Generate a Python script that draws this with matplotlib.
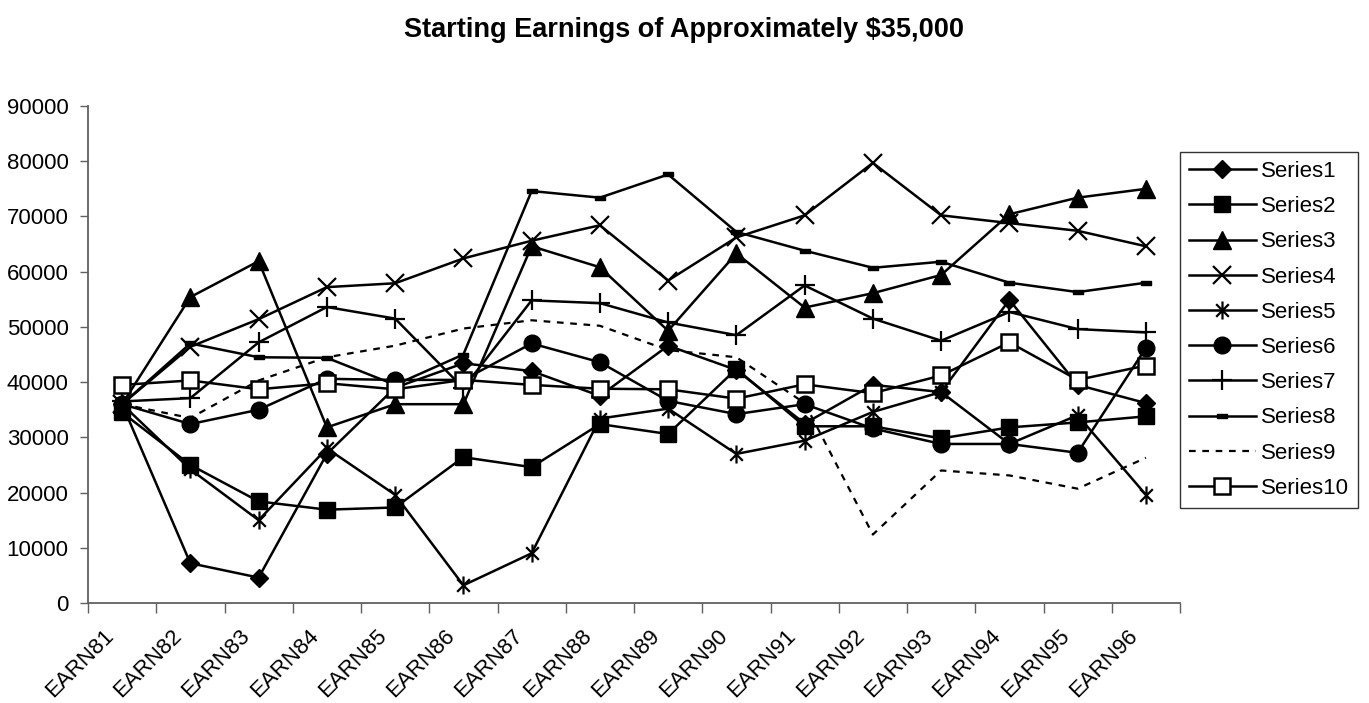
import matplotlib.pyplot as plt
from matplotlib.path import Path
from matplotlib.transforms import ScaledTranslation
import numpy as np

plt.rcParams['font.family'] = ['Liberation Sans', 'DejaVu Sans']

# categories
years = ["EARN81", "EARN82", "EARN83", "EARN84", "EARN85", "EARN86", "EARN87", "EARN88",
         "EARN89", "EARN90", "EARN91", "EARN92", "EARN93", "EARN94", "EARN95", "EARN96"]

# series values
series1 = [36000, 7200, 4600, 27000, 39000, 43400, 42000, 37500, 46600, 42200, 32500, 39500, 38200, 54900, 39500, 36200]
series2 = [34500, 25000, 18400, 16900, 17300, 26400, 24600, 32400, 30600, 42400, 32000, 32000, 29800, 31800, 32700, 33800]
series3 = [36000, 55400, 61900, 31800, 36000, 36000, 64600, 60800, 49300, 63300, 53500, 56100, 59400, 70400, 73400, 75000]
series4 = [36000, 46400, 51400, 57200, 57900, 62400, 65600, 68400, 58400, 66200, 70200, 79700, 70200, 68800, 67400, 64600]
series5 = [36000, 24200, 15000, 28000, 19600, 3200, 9000, 33400, 35200, 27000, 29400, 34600, 38200, 28800, 34000, 19600]
series6 = [36000, 32400, 35000, 40600, 40400, 40400, 47000, 43600, 36600, 34200, 36000, 31600, 28800, 28800, 27200, 46200]
series7 = [36500, 37100, 47200, 53600, 51500, 38900, 54800, 54300, 50800, 48500, 57500, 51500, 47500, 52700, 49600, 49000]
series8 = [36000, 47000, 44500, 44400, 39500, 45000, 74600, 73400, 77600, 67200, 63800, 60700, 61800, 58000, 56300, 58000]
series9 = [36000, 33500, 40300, 44500, 46600, 49700, 51200, 50200, 45800, 44500, 36200, 12400, 24000, 23100, 20700, 26300]
series10 = [39500, 40300, 38700, 39800, 38700, 40400, 39500, 38800, 38700, 37000, 39600, 38000, 41200, 47200, 40400, 43000]

names = ["Series1", "Series2", "Series3", "Series4", "Series5",
         "Series6", "Series7", "Series8", "Series9", "Series10"]

dash_marker = Path([(-1, -0.45), (1, -0.45), (1, 0.45), (-1, 0.45), (-1, -0.45)],
                   [Path.MOVETO, Path.LINETO, Path.LINETO, Path.LINETO, Path.CLOSEPOLY])
asterisk = Path([(-0.7, -0.7), (0.7, 0.7), (-0.7, 0.7), (0.7, -0.7), (0, -1), (0, 1)],
                [Path.MOVETO, Path.LINETO, Path.MOVETO, Path.LINETO, Path.MOVETO, Path.LINETO])

fig = plt.figure(figsize=(13.69, 7.03), dpi=100)
ax = fig.add_axes([88 / 1369, 1 - 603 / 703, (1180 - 88) / 1369, (603 - 106) / 703])

x = np.arange(len(years))
lw = 1.8
ax.plot(x, series1, color='black', lw=lw, marker='D', ms=9, label=names[0])
ax.plot(x, series2, color='black', lw=lw, marker='s', ms=12, label=names[1])
ax.plot(x, series3, color='black', lw=lw, marker='^', ms=13, label=names[2])
ax.plot(x, series4, color='black', lw=lw, marker='x', ms=13, mew=1.6, label=names[3])
ax.plot(x, series5, color='black', lw=lw, marker=asterisk, ms=13, mew=1.6,
        mfc='none', mec='black', label=names[4])
ax.plot(x, series6, color='black', lw=lw, marker='o', ms=12, label=names[5])
ax.plot(x, series7, color='black', lw=lw, marker='+', ms=15, mew=1.6, label=names[6])
ax.plot(x, series8, color='black', lw=lw, marker=dash_marker, ms=7, label=names[7])
ax.plot(x, series9, color='black', lw=1.6, ls=(0, (3, 3)), label=names[8])
ax.plot(x, series10, color='black', lw=lw, marker='s', ms=12, mfc='white', mec='black',
        mew=1.8, label=names[9])

ax.set_xlim(-0.5, len(years) - 0.5)
ax.set_ylim(0, 90000)
ax.set_yticks(np.arange(0, 90001, 10000))
ax.tick_params(axis='y', labelsize=16, length=6, width=1, color='#606060', pad=8)

ax.set_xticks(np.arange(-0.5, len(years), 1.0))
ax.set_xticklabels([])
ax.tick_params(axis='x', which='major', length=7, width=1, color='#606060')
ax.set_xticks(x, minor=True)
ax.set_xticklabels(years, minor=True, rotation=45, ha='right', va='top',
                   rotation_mode='anchor', fontsize=16)
ax.tick_params(axis='x', which='minor', length=0, pad=16)
shift = ScaledTranslation(-0.19, 0, fig.dpi_scale_trans)
for lab in ax.get_xticklabels(minor=True):
    lab.set_transform(lab.get_transform() + shift)

for side in ['top', 'right']:
    ax.spines[side].set_visible(False)
for side in ['left', 'bottom']:
    ax.spines[side].set_color('#606060')
    ax.spines[side].set_linewidth(1.3)

fig.text(684 / 1369, 1 - 30 / 703, "Starting Earnings of Approximately $35,000", ha='center',
         va='center', fontsize=19.5, fontweight='bold')

leg = ax.legend(loc='upper left', bbox_to_anchor=(1180 / 1369, 1 - 152 / 703),
                bbox_transform=fig.transFigure, fontsize=16, frameon=True, fancybox=False,
                edgecolor='black', handlelength=3.0, labelspacing=0.64, borderpad=0.4,
                handletextpad=0.25, borderaxespad=0)
leg.get_frame().set_linewidth(1.0)

fig.savefig("out.png", dpi=100)
